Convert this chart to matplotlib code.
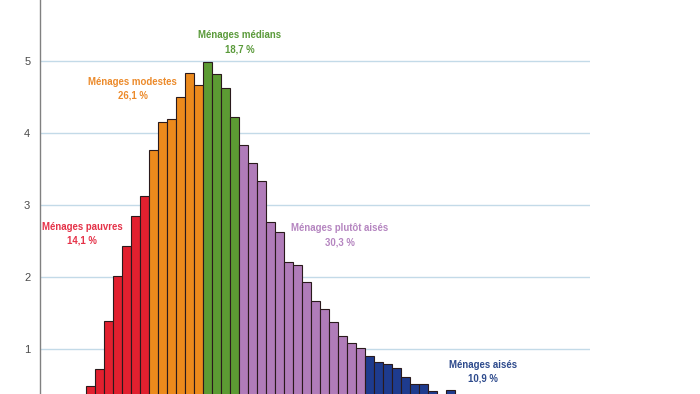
import matplotlib
matplotlib.use("Agg")
import matplotlib.pyplot as plt
import numpy as np

# hauteurs des barres (en %), par tranche de revenu
# (les toutes petites barres sous le bas de l'image sont estimées)
pauvres = [0.12, 0.20, 0.26, 0.30, 0.48, 0.72, 1.39, 2.01, 2.43, 2.85, 3.12]
modestes = [3.77, 4.15, 4.19, 4.50, 4.83, 4.66]
medians = [4.98, 4.82, 4.63, 4.22]
plutot_aises = [3.84, 3.58, 3.33, 2.77, 2.62, 2.21, 2.17, 1.93, 1.67, 1.55,
                1.38, 1.18, 1.09, 1.01]
aises = [0.90, 0.82, 0.79, 0.74, 0.61, 0.52, 0.52, 0.42, 0.30, 0.43,
         0.28, 0.27, 0.26, 0.25, 0.24, 0.22, 0.21, 0.20, 0.18, 0.17]

groupes = [pauvres, modestes, medians, plutot_aises, aises]
couleurs = ["#e2202f", "#ec8a1c", "#5c9b33", "#b07cb9", "#1e3b8e"]
couleurs_texte = ["#e53248", "#ec8a2a", "#5a9a3a", "#b585c0", "#2d4a8c"]
etiquettes = ["Ménages pauvres\n14,1 %", "Ménages modestes\n26,1 %",
              "Ménages médians\n18,7 %", "Ménages plutôt aisés\n30,3 %",
              "Ménages aisés\n10,9 %"]
pos_etiquettes = [(3.6, 2.60), (9.2, 4.61), (21.1, 5.26), (32.2, 2.58), (48.1, 0.69)]
yticks = [1, 2, 3, 4, 5]

fig = plt.figure(figsize=(7, 3.94), dpi=100)
# l'axe dépasse volontairement le cadre (image recadrée en haut et en bas)
ax = fig.add_axes([40/700, -27/394, 550/700, 432/394])

debut = 0
for vals, c in zip(groupes, couleurs):
    x = np.arange(debut, debut + len(vals))
    ax.bar(x, vals, width=1.0, align="edge", color=c,
           edgecolor="#2a1a1c", linewidth=0.8, zorder=3)
    debut += len(vals)

police = ["Liberation Sans Narrow", "Liberation Sans", "DejaVu Sans"]
for txt, (xx, yy), c in zip(etiquettes, pos_etiquettes, couleurs_texte):
    ax.text(xx, yy, txt, color=c, fontsize=6.9, fontweight="bold",
            family=police, ha="center", va="center", multialignment="center",
            linespacing=1.45, zorder=5)

ax.set_xlim(-1.11, 60)
ax.set_ylim(0, 6)
ax.set_yticks(yticks)
ax.set_yticklabels([str(t) for t in yticks], color="#4a4a4a", fontsize=8,
                   family=police)
ax.set_xticks([])
ax.tick_params(axis="y", length=0, pad=7)
ax.grid(axis="y", color="#c3dae8", linewidth=1.0, zorder=0)
for s in ["top", "right", "bottom"]:
    ax.spines[s].set_visible(False)
ax.spines["left"].set_color("#808080")
ax.spines["left"].set_linewidth(1.0)
ax.set_facecolor("white")

fig.savefig("out.png", dpi=100)
